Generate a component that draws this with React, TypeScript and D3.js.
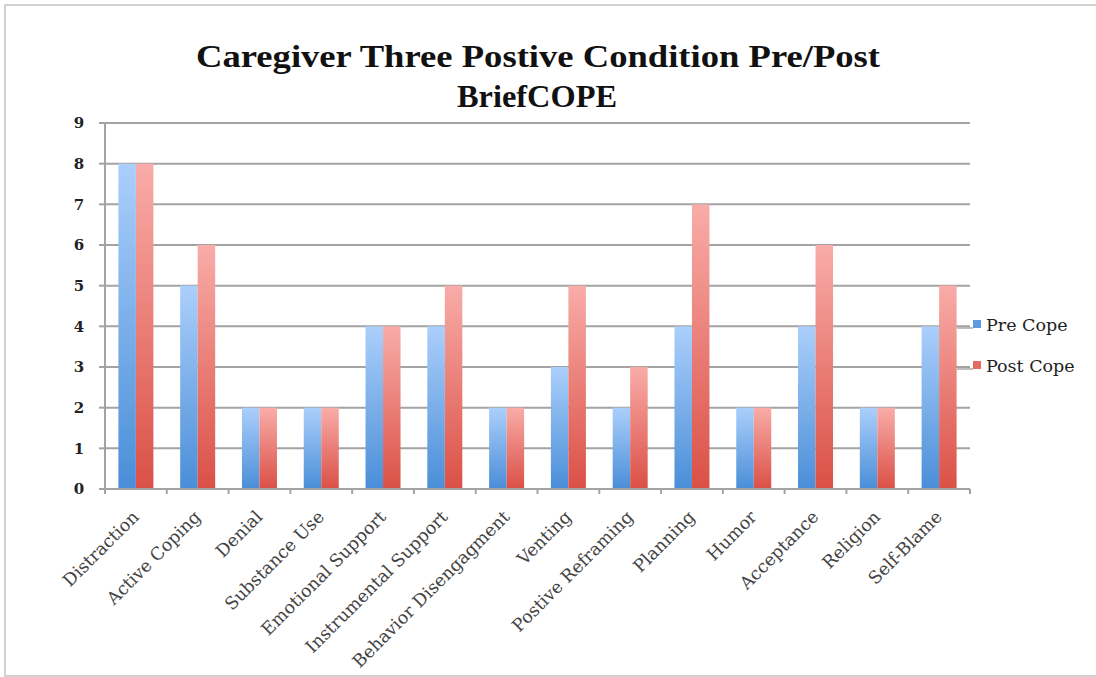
import React from "react";
import * as d3 from "d3";

const categories = [
  "Distraction",
  "Active Coping",
  "Denial",
  "Substance Use",
  "Emotional Support",
  "Instrumental Support",
  "Behavior Disengagment",
  "Venting",
  "Postive Reframing",
  "Planning",
  "Humor",
  "Acceptance",
  "Religion",
  "Self-Blame",
];
const preCope = [8, 5, 2, 2, 4, 4, 2, 3, 2, 4, 2, 4, 2, 4];
const postCope = [8, 6, 2, 2, 4, 5, 2, 5, 3, 7, 2, 6, 2, 5];
const yTicks = [0, 1, 2, 3, 4, 5, 6, 7, 8, 9];
const seriesNames = ["Pre Cope", "Post Cope"];
const titleLines = ["Caregiver Three Postive Condition Pre/Post", "BriefCOPE"];

const W = 1096;
const H = 677;
const left = 105;
const right = 970;
const top = 123;
const bottom = 489;

export default function App() {
  const x0 = d3.scaleBand<string>().domain(categories).range([left, right]).padding(0);
  const bw = x0.bandwidth();
  const barW = 17.5;
  const x1 = d3
    .scaleBand<string>()
    .domain(seriesNames)
    .range([bw / 2 - barW, bw / 2 + barW])
    .padding(0);
  const y = d3.scaleLinear().domain([0, 9]).range([bottom, top]);
  const series = [preCope, postCope];
  const fills = ["url(#gBlue)", "url(#gRed)"];
  const legendSwatch = ["#5b9be0", "#e66a62"];

  return (
    <svg
      width={W}
      height={H}
      style={{ position: "absolute", left: 0, top: 0, background: "#fff" }}
    >
      <defs>
        <linearGradient id="gBlue" x1="0" y1="0" x2="0" y2="1">
          <stop offset="0%" stopColor="#abcffb" />
          <stop offset="100%" stopColor="#4a8ed8" />
        </linearGradient>
        <linearGradient id="gRed" x1="0" y1="0" x2="0" y2="1">
          <stop offset="0%" stopColor="#f9aca8" />
          <stop offset="100%" stopColor="#da5046" />
        </linearGradient>
      </defs>
      <rect x={0} y={0} width={W} height={H} fill="#fff" />
      <rect x={5} y={5} width={W} height={671} fill="none" stroke="#c4c4c4" strokeWidth={1.5} />

      {/* title */}
      <text
        x={538}
        y={67}
        textAnchor="middle"
        fontFamily="'Liberation Serif', 'DejaVu Serif', serif"
        fontWeight="bold"
        fontSize={32}
        textLength={684}
        lengthAdjust="spacingAndGlyphs"
        fill="#111"
      >
        {titleLines[0]}
      </text>
      <text
        x={537}
        y={107}
        textAnchor="middle"
        fontFamily="'Liberation Serif', 'DejaVu Serif', serif"
        fontWeight="bold"
        fontSize={32}
        textLength={160}
        lengthAdjust="spacingAndGlyphs"
        fill="#111"
      >
        {titleLines[1]}
      </text>

      {/* gridlines */}
      {yTicks.filter((t) => t > 0).map((t) => (
        <line key={t} x1={left} x2={right} y1={y(t)} y2={y(t)} stroke="#a3a3a3" strokeWidth={2} />
      ))}

      {/* bars */}
      {categories.map((c, i) => (
        <g key={c} transform={`translate(${x0(c)},0)`}>
          {series.map((s, j) => (
            <rect
              key={j}
              x={x1(seriesNames[j])}
              y={y(s[i])}
              width={x1.bandwidth()}
              height={y(0) - y(s[i])}
              fill={fills[j]}
            />
          ))}
        </g>
      ))}

      {/* axes */}
      <line x1={left} x2={left} y1={top} y2={bottom} stroke="#a3a3a3" strokeWidth={2} />
      <line x1={left - 5} x2={right} y1={bottom} y2={bottom} stroke="#a3a3a3" strokeWidth={2} />
      {yTicks.map((t) => (
        <g key={t}>
          <line x1={left - 6} x2={left} y1={y(t)} y2={y(t)} stroke="#a3a3a3" strokeWidth={2} />
          <text
            x={79}
            y={y(t)}
            dy="0.36em"
            textAnchor="middle"
            fontFamily="'DejaVu Serif', serif"
            fontWeight="bold"
            fontSize={15}
            fill="#222"
          >
            {t}
          </text>
        </g>
      ))}
      {categories.map((c, i) => (
        <line
          key={"t" + i}
          x1={x0(c)}
          x2={x0(c)}
          y1={bottom}
          y2={bottom + 5}
          stroke="#a3a3a3"
          strokeWidth={2}
        />
      ))}
      <line x1={right} x2={right} y1={bottom} y2={bottom + 5} stroke="#a3a3a3" strokeWidth={2} />

      {/* category labels */}
      {categories.map((c) => {
        const cx = (x0(c) as number) + bw / 2 + 4;
        const cy = 518;
        return (
          <text
            key={"l" + c}
            transform={`translate(${cx},${cy}) rotate(-45)`}
            textAnchor="end"
            fontFamily="'DejaVu Serif', serif"
            fontSize={17.5}
            fill="#444"
          >
            {c}
          </text>
        );
      })}

      {/* legend */}
      {seriesNames.map((n, j) => {
        const ly = 325 + j * 41;
        return (
          <g key={n}>
            <line x1={957} x2={973} y1={ly + 3} y2={ly + 3} stroke="#aaa" strokeWidth={1.5} />
            <rect x={973} y={ly - 5} width={8} height={8} fill={legendSwatch[j]} />
            <text
              x={986}
              y={ly}
              dy="0.35em"
              fontFamily="'DejaVu Serif', serif"
              fontSize={17.5}
              fill="#222"
            >
              {n}
            </text>
          </g>
        );
      })}
    </svg>
  );
}
